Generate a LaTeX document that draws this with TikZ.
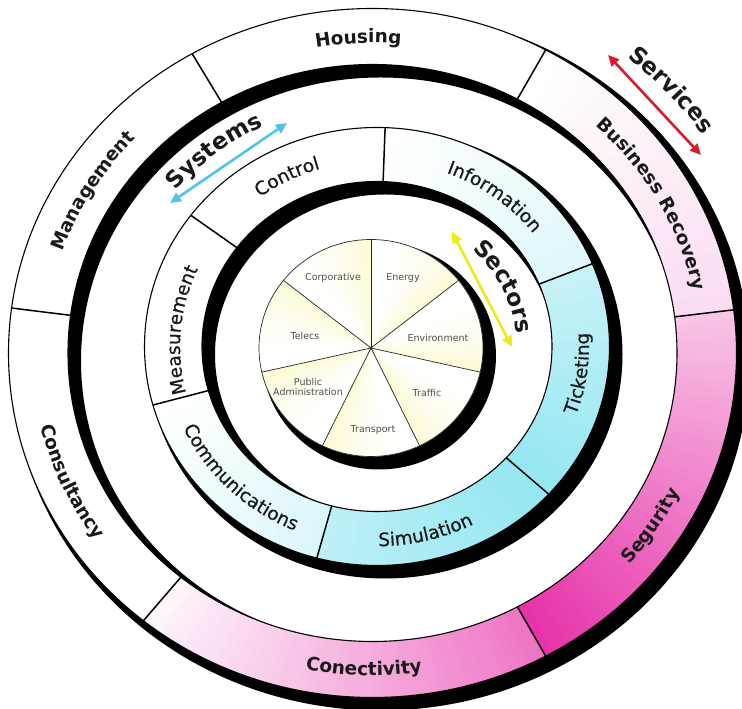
\documentclass[tikz,border=0pt]{standalone}
\usepackage{fontspec}
\newfontfamily\dv{DejaVu Sans}
\newfontfamily\dvmed[FakeBold=0.6]{DejaVu Sans}
\usetikzlibrary{arrows.meta,decorations.text}
\definecolor{cyanpk}{RGB}{70,212,230}
\definecolor{magpk}{RGB}{228,30,160}
\definecolor{pieyel}{RGB}{250,238,120}
\definecolor{arrcyan}{RGB}{80,196,232}
\definecolor{arrred}{RGB}{218,28,40}
\definecolor{arryel}{RGB}{238,234,20}
\definecolor{labgray}{RGB}{80,80,80}
\definecolor{labdark}{RGB}{25,25,25}
% annular wedge: #1 start, #2 end, #3 Rox, #4 Roy, #5 Rix, #6 Riy, #7 fill
\newcommand\wedgefill[7]{\fill[#7] (#1:#3 and #4) arc[start angle=#1, end angle=#2, x radius=#3, y radius=#4] -- (#2:#5 and #6) arc[start angle=#2, end angle=#1, x radius=#5, y radius=#6] -- cycle;}
% pie wedge: #1 start, #2 end, #3 Rx, #4 Ry, #5 fill
\newcommand\piewedge[5]{\fill[#5] (0,0) -- (#1:#3 and #4) arc[start angle=#1, end angle=#2, x radius=#3, y radius=#4] -- cycle;}
\newcommand\bigfont{\dv\bfseries\fontsize{23}{26}\selectfont}
\newcommand\ringbold{\dv\bfseries\fontsize{18.5}{22}\selectfont}
\newcommand\ringreg{\dvmed\fontsize{18.5}{22}\selectfont}
\begin{document}
\begin{tikzpicture}[x=1pt,y=1pt,
  ringline/.style={line width=1.1pt},
  divider/.style={line width=1.5pt},
  pieline/.style={line width=0.7pt, draw=black!85},
  pielabel/.style={font=\dv\fontsize{9.5}{10.5}\selectfont, text=labgray, align=center, inner sep=0pt},
  dblarrow/.style={line width=2.6pt, {Triangle[length=11pt,width=10pt]}-{Triangle[length=11pt,width=10pt]}},
  arclab/.style={decorate, decoration={text along path, text align=center, text color=labdark, text={#1}}},
]
\useasboundingbox (0,0) rectangle (742,709);
\fill[white] (0,0) rectangle (742,709);
\clip (0,0) rectangle (742,709);

% ---------------- services ring ----------------
\begin{scope}[shift={(372.5,356)}]
  \fill[black, even odd rule] (8,-8) ellipse[x radius=369, y radius=349.5] (8,-8) ellipse[x radius=299.5, y radius=283.5];
  \fill[white, even odd rule] (0,0) ellipse[x radius=364, y radius=344.5] (0,0) ellipse[x radius=304.5, y radius=288.5];
  \foreach \s/\e/\ps/\pe in {61.6/7.2/0/16, 7.2/-61.6/26/92, -61.6/-129/62/4} {
    \pgfmathtruncatemacro\nn{ceil(abs(\s-\e)/1.5)}
    \foreach \k in {1,...,\nn} {
      \pgfmathsetmacro\angA{\s+(\e-\s)*(\k-1)/\nn}
      \pgfmathsetmacro\angB{\s+(\e-\s)*\k/\nn-0.5}
      \pgfmathtruncatemacro\pp{\ps+(\pe-\ps)*(\k-0.5)/\nn}
      \wedgefill{\angA}{\angB}{364}{344.5}{304.5}{288.5}{magpk!\pp!white}
    }
  }
  \draw[ringline] (0,0) ellipse[x radius=364, y radius=344.5];
  \draw[ringline] (0,0) ellipse[x radius=304.5, y radius=288.5];
  \foreach \d in {7.2,61.6,119.7,172.5,231,298.4}
    \draw[divider] (\d:304.5 and 288.5) -- (\d:364 and 344.5);
  % labels
  \path[arclab={|\ringbold|Housing}] (122.5:327.5 and 310.1) arc[start angle=122.5, end angle=62.5, x radius=327.5, y radius=310.1];
  \path[arclab={|\ringbold|Management}] (184:327.5 and 310.1) arc[start angle=184, end angle=114, x radius=327.5, y radius=310.1];
  \path[arclab={|\ringbold|Business Recovery}] (64:327.5 and 310.1) arc[start angle=64, end angle=-6, x radius=327.5, y radius=310.1];
  \path[arclab={|\ringbold|Consultancy}] (169:340.5 and 322.5) arc[start angle=169, end angle=239, x radius=340.5, y radius=322.5];
  \path[arclab={|\ringbold|Conectivity}] (238.5:340.5 and 322.5) arc[start angle=238.5, end angle=298.5, x radius=340.5, y radius=322.5];
  \path[arclab={|\ringbold|Segurity}] (-63:340.5 and 322.5) arc[start angle=-63, end angle=-3, x radius=340.5, y radius=322.5];
  \path[arclab={|\bigfont|Services}] (67.6:403 and 381.6) arc[start angle=67.6, end angle=17.6, x radius=403, y radius=381.6];
\end{scope}

% ---------------- systems ring ----------------
\begin{scope}[shift={(377,362.5)}]
  \fill[black, even odd rule] (8,-8) ellipse[x radius=237.5, y radius=224] (8,-8) ellipse[x radius=170, y radius=160];
  \fill[white, even odd rule] (0,0) ellipse[x radius=232.5, y radius=219] (0,0) ellipse[x radius=175, y radius=165];
  \foreach \s/\e/\ps/\pe in {88/22.2/0/18, 22.2/-42.4/30/58, -42.4/-105/58/36, -105/-165/20/0} {
    \pgfmathtruncatemacro\nn{ceil(abs(\s-\e)/1.5)}
    \foreach \k in {1,...,\nn} {
      \pgfmathsetmacro\angA{\s+(\e-\s)*(\k-1)/\nn}
      \pgfmathsetmacro\angB{\s+(\e-\s)*\k/\nn-0.5}
      \pgfmathtruncatemacro\pp{\ps+(\pe-\ps)*(\k-0.5)/\nn}
      \wedgefill{\angA}{\angB}{232.5}{219}{175}{165}{cyanpk!\pp!white}
    }
  }
  \draw[ringline] (0,0) ellipse[x radius=232.5, y radius=219];
  \draw[ringline] (0,0) ellipse[x radius=175, y radius=165];
  \foreach \d in {88,22.2,-42.4,-105,195.5,143.2}
    \draw[divider] (\d:175 and 165) -- (\d:232.5 and 219);
  \path[arclab={|\ringreg|Control}] (152:197 and 185.6) arc[start angle=152, end angle=82, x radius=197, y radius=185.6];
  \path[arclab={|\ringreg|Information}] (88:197 and 185.6) arc[start angle=88, end angle=18, x radius=197, y radius=185.6];
  \path[arclab={|\ringreg|Measurement}] (215:197 and 185.6) arc[start angle=215, end angle=135, x radius=197, y radius=185.6];
  \path[arclab={|\ringreg|Ticketing}] (-43:212 and 199.7) arc[start angle=-43, end angle=27, x radius=212, y radius=199.7];
  \path[arclab={|\ringreg|Simulation}] (-111:212 and 199.7) arc[start angle=-111, end angle=-41, x radius=212, y radius=199.7];
  \path[arclab={|\ringreg|Communications}] (180:212 and 199.7) arc[start angle=180, end angle=270, x radius=212, y radius=199.7];
  \path[arclab={|\bigfont|Systems}] (158.6:260 and 245) arc[start angle=158.6, end angle=98.6, x radius=260, y radius=245];
  \path[arclab={|\bigfont|Sectors}] (66:140 and 132) arc[start angle=66, end angle=-14, x radius=140, y radius=132];
\end{scope}

% ---------------- pie ----------------
\begin{scope}[shift={(371,361)}]
  \fill[black] (8,-8) ellipse[x radius=117, y radius=113.5];
  \fill[white] (0,0) ellipse[x radius=112, y radius=108.5];
  \foreach \i in {0,...,6} {
    \pgfmathsetmacro\st{141.43-51.43*\i}
    \foreach \k in {1,...,18} {
      \pgfmathsetmacro\angA{\st-51.43*(\k-1)/18}
      \pgfmathsetmacro\angB{\st-51.43*\k/18-0.5}
      \pgfmathtruncatemacro\pp{32*((\k-0.5)/18)^2}
      \piewedge{\angA}{\angB}{112}{108.5}{pieyel!\pp!white}
    }
  }
  \foreach \d in {90,38.57,-12.86,-64.29,-115.71,-167.14,141.43}
    \draw[pieline] (0,0) -- (\d:112 and 108.5);
  \draw[pieline] (0,0) ellipse[x radius=112, y radius=108.5];
  \fill[black!80] (0,0) circle[radius=1.6];
\end{scope}

\node[pielabel] (corp) at (333,431) {Corporative};
\node[pielabel] (energy) at (403,431) {Energy};
\node[pielabel] (env) at (438,371) {Environment};
\node[pielabel] (traffic) at (427,316) {Traffic};
\node[pielabel] (transport) at (373,279) {Transport};
\node[pielabel] (pubadm) at (308,322) {Public\\Administration};
\node[pielabel] (telecs) at (305,373) {Telecs};

% ---------------- double arrows ----------------
\coordinate (sysA) at (170,506);
\coordinate (sysB) at (287,586);
\coordinate (serA) at (608,654);
\coordinate (serB) at (701,554);
\coordinate (secA) at (452,477);
\coordinate (secB) at (512,362);
\draw[dblarrow, arrcyan] (sysA) -- (sysB);
\draw[dblarrow, arrred] (serA) -- (serB);
\draw[dblarrow, arryel] (secA) -- (secB);
\end{tikzpicture}
\end{document}
